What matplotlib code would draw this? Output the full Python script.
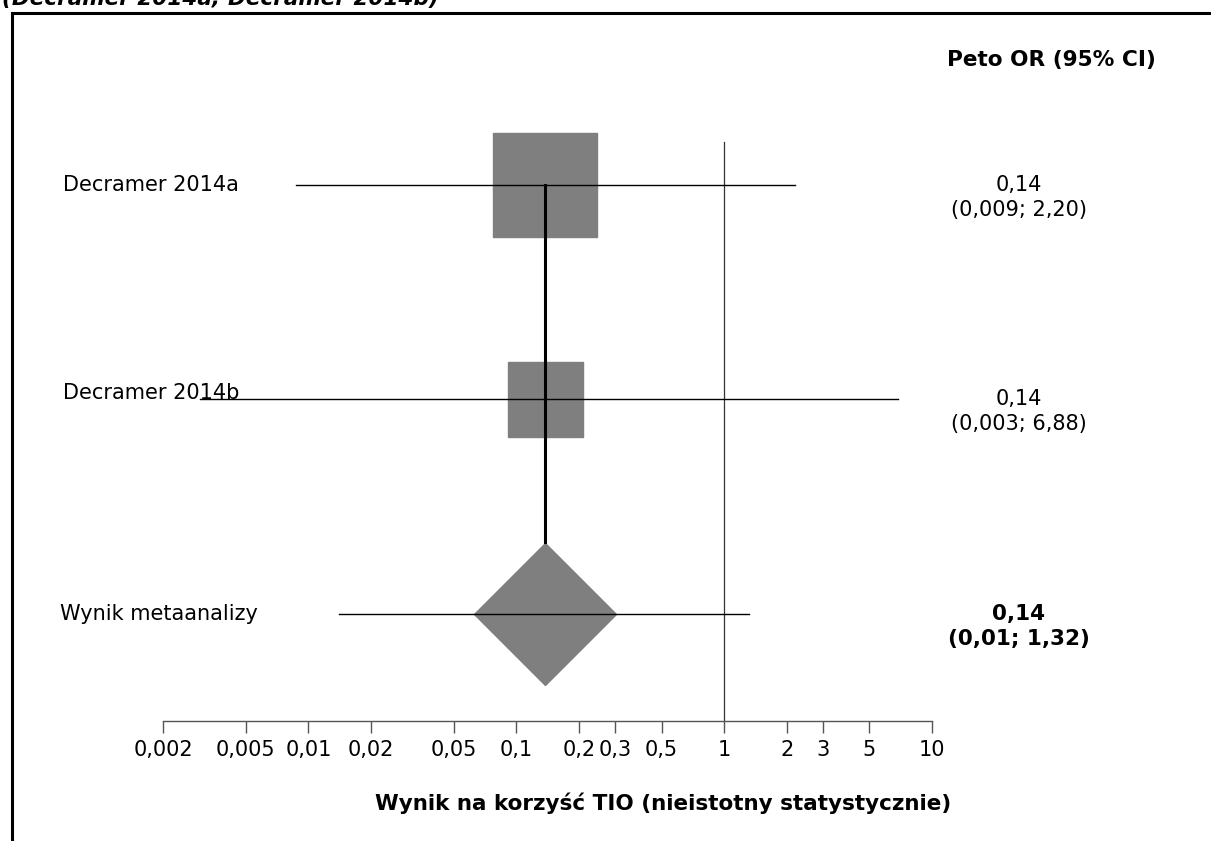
import matplotlib
matplotlib.use("Agg")
import matplotlib.pyplot as plt
import matplotlib.transforms as mtransforms
from matplotlib.lines import Line2D

# badania i wyniki (Peto OR, 95% CI)
studies = ["Decramer 2014a", "Decramer 2014b"]
study_or = [0.137, 0.137]
study_low = [0.0087, 0.003]
study_high = [2.20, 6.88]

pooled_label = "Wynik metaanalizy"
pooled_or = 0.137
pooled_low = 0.014
pooled_high = 1.32

tick_values = [0.002, 0.005, 0.01, 0.02, 0.05, 0.1, 0.2, 0.3, 0.5, 1, 2, 3, 5, 10]
tick_labels = ["0,002", "0,005", "0,01", "0,02", "0,05", "0,1", "0,2", "0,3",
               "0,5", "1", "2", "3", "5", "10"]

title = "(Decramer 2014a; Decramer 2014b)"
header = "Peto OR (95% CI)"
xlabel = "Wynik na korzyść TIO (nieistotny statystycznie)"


def fmt(v, nd):
    return f"{v:.{nd}f}".replace(".", ",")


W, H = 1211, 841
plt.rcParams["font.family"] = ["DejaVu Sans"]
fig = plt.figure(figsize=(W / 100, H / 100), dpi=100)

# os: 0,002 -> 163 px, 10 -> 932 px, dol osi 721 px
left, right = 163 / W, 932 / W
bottom, top = 1 - 721 / H, 1 - 99 / H
ax = fig.add_axes([left, bottom, right - left, top - bottom])
ax.set_xscale("log")
ax.set_xlim(0.002, 10)
ax.set_ylim(0.5, 3.4)
ax.patch.set_alpha(0)
for s in ["top", "right", "left"]:
    ax.spines[s].set_visible(False)
ax.spines["bottom"].set_color("#555555")
ax.spines["bottom"].set_linewidth(1.0)
ax.set_yticks([])
ax.set_xticks(tick_values)
ax.set_xticklabels(tick_labels, fontsize=15)
ax.minorticks_off()
ax.tick_params(axis="x", direction="out", length=8.6, width=1.0,
               color="#555555", pad=5)

rows = [3, 2]
pooled_row = 1
square_sizes = [75.5, 54]
grey = "#7f7f7f"

# linia braku efektu
ax.plot([1, 1], [0.5, 3.2], color="#333333", lw=0.9, zorder=1)

for y, est, lo, hi, ms in zip(rows, study_or, study_low, study_high, square_sizes):
    ax.plot([est], [y], marker="s", ms=ms, color=grey, mec=grey, zorder=2)
    ax.plot([lo, hi], [y, y], color="black", lw=1.0, zorder=3)

ax.plot([pooled_or], [pooled_row], marker="D", ms=72.5, color=grey, mec=grey,
        zorder=2)
ax.plot([pooled_low, pooled_high], [pooled_row, pooled_row], color="black",
        lw=1.0, zorder=3)

# pionowa linia od pierwszego badania do rombu
ax.plot([pooled_or, pooled_or], [rows[0], pooled_row + 71.5 / 214.5],
        color="black", lw=2.2, zorder=4)

# etykiety po lewej
lab = mtransforms.blended_transform_factory(fig.transFigure, ax.transData)
ax.text(63 / W, rows[0], studies[0], transform=lab, fontsize=15,
        va="center", ha="left")
ax.text(63 / W, rows[1], studies[1], transform=lab, fontsize=15,
        va="baseline", ha="left")
ax.text(60 / W, pooled_row, pooled_label, transform=lab, fontsize=15,
        va="center", ha="left")

# wyniki po prawej
dy = 25 / 214.5
for y, est, lo, hi in zip(rows, study_or, study_low, study_high):
    ax.text(1019 / W, y, fmt(est, 2), transform=lab, fontsize=15,
            ha="center", va="center")
    ax.text(1019 / W, y - dy, f"({fmt(lo, 3)}; {fmt(hi, 2)})", transform=lab,
            fontsize=15, ha="center", va="center")
ax.text(1019 / W, pooled_row, fmt(pooled_or, 2), transform=lab, fontsize=15.5,
        ha="center", va="center", fontweight="bold")
ax.text(1019 / W, pooled_row - dy, f"({fmt(pooled_low, 2)}; {fmt(pooled_high, 2)})",
        transform=lab, fontsize=15.5, ha="center", va="center", fontweight="bold")

fig.text(1051 / W, 1 - 60 / H, header, fontsize=15.6, fontweight="bold",
         ha="center", va="center")
fig.text(663 / W, 1 - 803 / H, xlabel, fontsize=15.5, fontweight="bold",
         ha="center", va="center")

# tytul ucięty u gory
fig.text(2 / W, 1 - 5 / H, title, fontsize=15.5, fontweight="bold",
         fontstyle="italic", ha="left", va="baseline")

# ramka
fx, fy = 11.5 / W, 1 - 12.5 / H
fig.add_artist(Line2D([fx, fx], [0, fy], color="black", lw=2.2,
                      transform=fig.transFigure, solid_capstyle="projecting"))
fig.add_artist(Line2D([fx, 1.01], [fy, fy], color="black", lw=2.2,
                      transform=fig.transFigure, solid_capstyle="projecting"))

fig.savefig("out.png", dpi=100, facecolor="white")
